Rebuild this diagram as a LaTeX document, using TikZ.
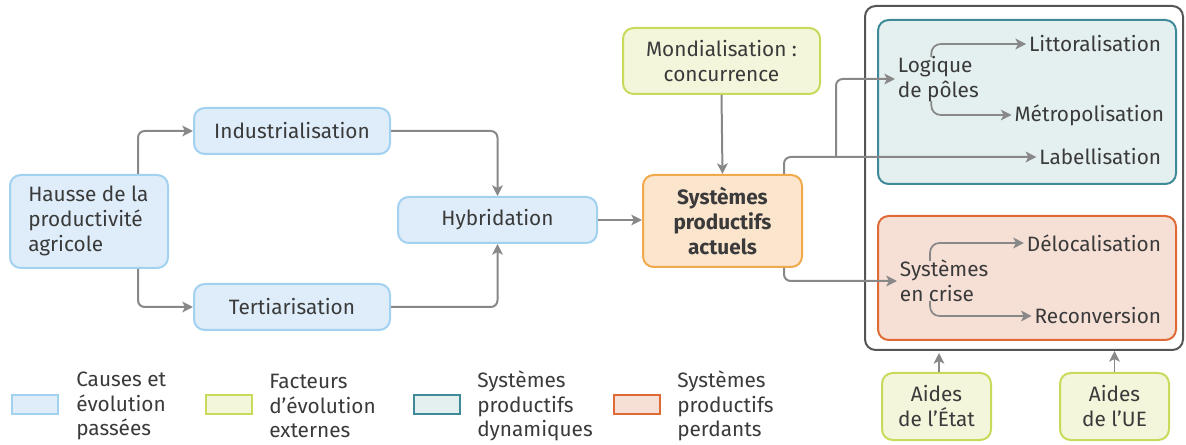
\documentclass[tikz,border=0pt]{standalone}
\usepackage{fontspec}
\setmainfont{Fira Sans}
\usetikzlibrary{arrows.meta,calc,fit}
\definecolor{txt}{HTML}{3A3A3A}
\definecolor{arr}{HTML}{888888}
\definecolor{bluef}{HTML}{DEEDF9}
\definecolor{blued}{HTML}{A3D2F0}
\definecolor{greenf}{HTML}{F4F6DC}
\definecolor{greend}{HTML}{C9DA5A}
\definecolor{tealf}{HTML}{E4EFF0}
\definecolor{teald}{HTML}{3E8A99}
\definecolor{orf}{HTML}{FBE5CD}
\definecolor{ord}{HTML}{F0AA4C}
\definecolor{redf}{HTML}{F6E0D6}
\definecolor{redd}{HTML}{E06A35}
\definecolor{outer}{HTML}{555555}
\begin{document}
\begin{tikzpicture}[x=0.75pt,y=-0.75pt,
  every node/.style={text=txt,font=\fontsize{15.6}{18.75}\selectfont},
  box/.style={draw,line width=1.5pt,rounded corners=8pt,inner sep=0pt,align=center},
  bluebox/.style={box,draw=blued,fill=bluef},
  greenbox/.style={box,draw=greend,fill=greenf},
  conn/.style={draw=arr,line width=1.5pt,rounded corners=5pt,-{Stealth[length=8pt,width=8pt,inset=2pt]}},
  lbl/.style={inner sep=2pt,align=left},
  legtext/.style={anchor=west,align=left,inner sep=0pt,font=\fontsize{15.6}{18.4}\selectfont},
  swatch/.style={line width=1.5pt}
]
\useasboundingbox (0,0) rectangle (1186,445);

% boxes
\node[bluebox,fit={(10,175) (168,268)},align=left] (hausse) {};
\node[align=left,anchor=west,inner sep=0pt] (hausseT) at (28,221) {Hausse de la\\productivité\\agricole};
\node[bluebox,fit={(194,108) (390,154)}] (ind) {};
\node (indT) at (ind.center) {Industrialisation};
\node[bluebox,fit={(194,284) (390,330)}] (ter) {};
\node (terT) at (ter.center) {Tertiarisation};
\node[bluebox,fit={(398,197) (597,243)}] (hyb) {};
\node (hybT) at (hyb.center) {Hybridation};
\node[box,draw=ord,fill=orf,fit={(643,175) (802,267)}] (sp) {};
\node[align=center,font=\fontsize{15.6}{18.75}\selectfont\bfseries] (spT) at (sp.center) {Systèmes\\productifs\\actuels};
\node[greenbox,fit={(623,28) (820,94)}] (mon) {};
\node[align=center] (monT) at (mon.center) {Mondialisation :\\concurrence};

\node[box,draw=outer,fit={(865,6) (1183,350)}] (out) {};
\node[box,draw=teald,fill=tealf,fit={(878,20) (1176,184)}] (dyn) {};
\node[box,draw=redd,fill=redf,fit={(878,216) (1176,340)}] (per) {};

\node[greenbox,fit={(882,373) (991,440)}] (ae) {};
\node[align=center] (aeT) at (ae.center) {Aides\\de l’État};
\node[greenbox,fit={(1060,373) (1169,440)}] (aue) {};
\node[align=center] (aueT) at (aue.center) {Aides\\de l’UE};

% inner texts
\node[lbl,anchor=west] (lp) at (895,79) {Logique\\de pôles};
\node[lbl,anchor=east] (lit) at (1164,44) {Littoralisation};
\node[lbl,anchor=east] (met) at (1167,115) {Métropolisation};
\node[lbl,anchor=east] (lab) at (1164,157) {Labellisation};
\node[lbl,anchor=west] (sc) at (897,281) {Systèmes\\en crise};
\node[lbl,anchor=east] (del) at (1164,243) {Délocalisation};
\node[lbl,anchor=east] (rec) at (1164,316) {Reconversion};

% connectors
\draw[conn] (hausse.north -| 138,0) |- (ind.west);
\draw[conn] (hausse.south -| 138,0) |- (ter.west);
\draw[conn] (ind.east) -| (hyb.north);
\draw[conn] (ter.east) -| (hyb.south);
\draw[conn] (hyb.east) -- (hyb.east -| sp.west);
\draw[conn] (mon.south) -- (sp.north);
\coordinate (br) at (836,157);
\draw[conn] ($(sp.north east)+(-19,0)$) |- (lab.west);
\draw[conn] (br) |- (lp.west);
\draw[conn] ($(sp.south east)+(-19,0)$) |- (sc.west);
\draw[conn,line width=1.3pt,rounded corners=7pt] ($(lp.north)+(-7,4)$) |- (lit.west);
\draw[conn,line width=1.3pt,rounded corners=7pt] ($(lp.south)+(-7,-4)$) |- (met.west);
\draw[conn,line width=1.3pt,rounded corners=7pt] ($(sc.north)+(-14,4)$) |- (del.west);
\draw[conn,line width=1.3pt,rounded corners=7pt] ($(sc.south)+(-14,-4)$) |- (rec.west);
\draw[conn,line width=1.3pt] (ae.north -| 939,0) -- ++(0,-19);
\draw[conn,line width=1.3pt] (aue.north) -- (aue.north |- out.south);

% legend
\node[swatch,draw=blued,fill=bluef,fit={(12,395) (58,414)},inner sep=0pt] (l1) {};
\node[swatch,draw=greend,fill=greenf,fit={(206,395) (252,414)},inner sep=0pt] (l2) {};
\node[swatch,draw=teald,fill=tealf,fit={(414,395) (460,414)},inner sep=0pt] (l3) {};
\node[swatch,draw=redd,fill=redf,fit={(614,395) (660,414)},inner sep=0pt] (l4) {};
\node[legtext] (t1) at (76,406) {Causes et\\évolution\\passées};
\node[legtext] (t2) at (269,406) {Facteurs\\d’évolution\\externes};
\node[legtext] (t3) at (477,406) {Systèmes\\productifs\\dynamiques};
\node[legtext] (t4) at (677,406) {Systèmes\\productifs\\perdants};
\end{tikzpicture}
\end{document}
